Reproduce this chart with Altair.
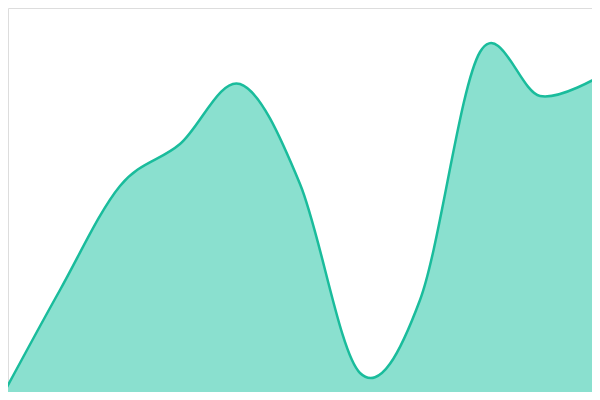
import altair as alt
import pandas as pd

# evenly spaced samples along the x axis
steps = [0, 1, 2, 3, 4, 5, 6, 7, 8, 9, 10]
values = [0, 27.5, 53.5, 64, 79, 54, 6.75, 25, 87, 76, 81]

df = pd.DataFrame({"step": steps, "value": values})

x_enc = alt.X("step:Q", axis=None,
              scale=alt.Scale(domain=[8 / 60, 592 / 60], nice=False, zero=False))
y_enc = alt.Y("value:Q", axis=None,
              scale=alt.Scale(domain=[2, 98], nice=False, zero=False))

base = alt.Chart(df)

area = base.mark_area(interpolate="cardinal", color="#8ae0cf", opacity=1, clip=True).encode(
    x=x_enc, y=y_enc, y2=alt.datum(0))
line = base.mark_line(interpolate="cardinal", color="#1abc9c", strokeWidth=2.5, clip=True).encode(
    x=x_enc, y=y_enc)

chart = (
    alt.layer(area, line)
    .properties(width=584, height=384, padding=0, autosize=alt.AutoSizeParams(type="none"))
    .configure_view(strokeWidth=0, strokeOpacity=0)
    .configure(background="white")
)

chart.save("out.html", embed_options={"renderer": "svg", "actions": False})
